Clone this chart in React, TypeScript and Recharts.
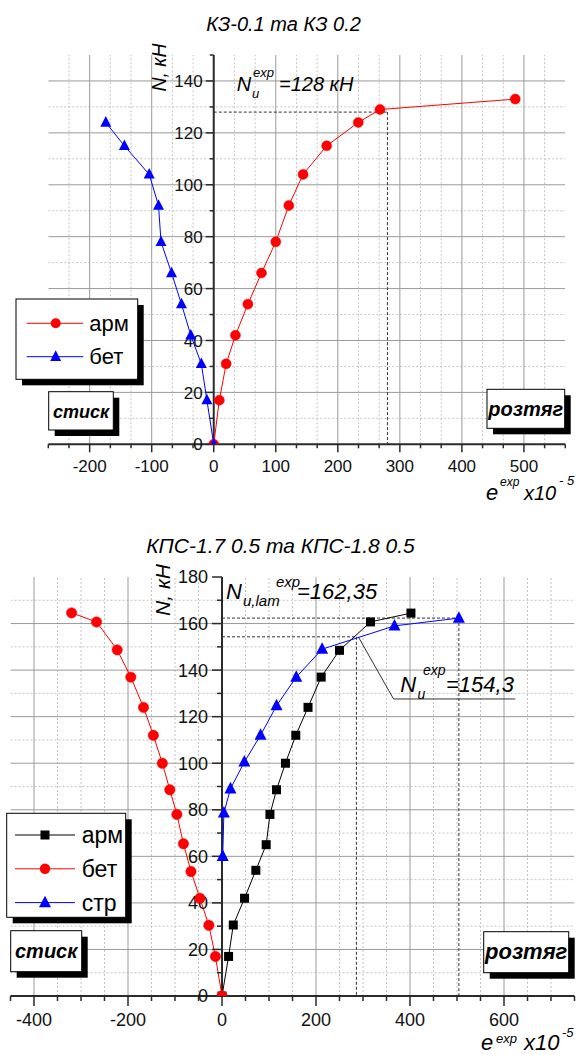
import React from 'react';
import { ComposedChart, Line, XAxis, YAxis, ReferenceLine, ReferenceDot } from 'recharts';

const FONT = '"Liberation Sans", Arial, sans-serif';
const AXIS = '#2a2a2a';
const GRID_MAJOR = '#9a9a9a';
const GRID_MINOR = '#c4c4c4';

// ---------- Chart 1: КЗ-0.1 та КЗ 0.2 ----------
const k1Title = 'КЗ-0.1 та КЗ 0.2';
const k1ArmLoad = [0, 17, 31, 42, 54, 66, 78, 92, 104, 115, 124, 129, 133];
const k1ArmStrain = [0, 9, 20, 35, 55, 77, 100, 121, 144, 182, 233, 268, 486];
const k1BetLoad = [0, 17, 31, 42, 54, 66, 78, 92, 104, 115, 124];
const k1BetStrain = [0, -11, -20, -37, -52, -68, -85, -89, -104, -144, -174];
const k1XDomain = [-266.67, 566.67];
const k1YDomain = [0, 150];
const k1XMajor = [-200, -100, 0, 100, 200, 300, 400, 500];
const k1XMinor = [-266.67, -233.33, -166.67, -133.33, -66.67, -33.33, 33.33, 66.67, 133.33, 166.67, 233.33, 266.67, 333.33, 366.67, 433.33, 466.67, 533.33, 566.67];
const k1YMajor = [0, 20, 40, 60, 80, 100, 120, 140];
const k1YMinor = [10, 30, 50, 70, 90, 110, 130, 150];
const k1NuLoad = 128;
const k1NuStrain = 280;

// ---------- Chart 2: КПС-1.7 0.5 та КПС-1.8 0.5 ----------
const k2Title = 'КПС-1.7 0.5 та КПС-1.8 0.5';
const k2ArmLoad = [0, 17, 30.5, 42, 54, 65, 78, 88.6, 100, 112, 124, 137, 148.5, 160.7, 164.5];
const k2ArmStrain = [0, 14, 24, 48, 72, 94, 102, 116, 135, 157, 183, 211, 250, 316, 402];
const k2BetLoad = [0, 17, 30.4, 42, 53.5, 65.4, 78, 88.6, 100, 112, 124, 137, 148.7, 160.7, 164.6];
const k2BetStrain = [0, -14, -28, -47, -66, -82, -96, -111, -127, -146, -167, -194, -223, -267, -320];
const k2StrLoad = [60, 78.6, 89, 100.5, 112, 124.7, 137, 149, 159, 162.35];
const k2StrStrain = [1.5, 4, 18, 47.5, 82, 116, 158, 213, 367, 504];
const k2XDomain = [-450, 750];
const k2YDomain = [0, 180];
const k2XMajor = [-400, -200, 0, 200, 400, 600];
const k2XMinor = [-450, -350, -300, -250, -150, -100, -50, 50, 100, 150, 250, 300, 350, 450, 500, 550, 650, 700, 750];
const k2YMajor = [0, 20, 40, 60, 80, 100, 120, 140, 160, 180];
const k2YMinor = [10, 30, 50, 70, 90, 110, 130, 150, 170];
const k2NuLamLoad = 162.35;
const k2NuLamStrain = 504;
const k2NuLoad = 154.3;
const k2NuStrain = 286;
const k2LeaderMid = { x: 365, y: 127.6 };
const k2LeaderEnd = 624;

const pts = (xs: number[], ys: number[]) => xs.map((x, i) => ({ x, y: ys[i] }));
const inside = (vals: number[], d: number[]) => vals.filter((v) => v !== 0 && v > d[0] + 1e-6 && v < d[1] - 1e-6);

const circleDot = (color: string, r: number) => (p: any) =>
  <circle key={`c${p.index}`} cx={p.cx} cy={p.cy} r={r} fill={color} stroke={color} strokeWidth={0.5} />;
const triDot = (color: string, s: number) => (p: any) => {
  const { cx, cy } = p;
  return <path key={`t${p.index}`} d={`M${cx},${cy - s * 0.58}L${cx + s / 2},${cy + s * 0.38}L${cx - s / 2},${cy + s * 0.38}Z`} fill={color} />;
};
const squareDot = (color: string, s: number) => (p: any) =>
  <rect key={`s${p.index}`} x={p.cx - s / 2} y={p.cy - s / 2} width={s} height={s} fill={color} />;

type AxisStyle = { major: number; minor: number; fontSize: number; labelDy: number; labelGap: number };

const near = (a: number[], v: number) => a.some((m) => Math.abs(m - v) < 1e-6);

const makeXTick = (majors: number[], st: AxisStyle) => (props: any) => {
  const { x, y, payload } = props;
  const v = payload.value;
  const isMajor = near(majors, v);
  return (
    <g>
      <line x1={x} x2={x} y1={y} y2={y + (isMajor ? st.major : st.minor)} stroke={AXIS} strokeWidth={1.5} />
      {isMajor && (
        <text x={x} y={y + st.labelDy} textAnchor="middle" fontSize={st.fontSize} fontFamily={FONT} fill="#111">{v}</text>
      )}
    </g>
  );
};

const yTickShape = (v: number, isMajor: boolean, st: AxisStyle) => (p: any) => (
  <g>
    <line x1={p.cx - (isMajor ? st.major : st.minor)} x2={p.cx} y1={p.cy} y2={p.cy} stroke={AXIS} strokeWidth={1.5} />
    {isMajor && (
      <text x={p.cx - st.labelGap} y={p.cy + st.fontSize * 0.36} textAnchor="end" fontSize={st.fontSize} fontFamily={FONT} fill="#111">{v}</text>
    )}
  </g>
);

const yTicks = (major: number[], minor: number[], st: AxisStyle) => [
  ...minor.map((v) => <ReferenceDot key={`ytm${v}`} x={0} y={v} r={1} shape={yTickShape(v, false, st)} />),
  ...major.map((v) => <ReferenceDot key={`yt${v}`} x={0} y={v} r={1} shape={yTickShape(v, true, st)} />),
];

// grid drawn as two-point lines through the chart scales
const gridLine = (key: string, data: any[], major: boolean) => (
  <Line key={key} data={data} dataKey="y" type="linear" stroke={major ? GRID_MAJOR : GRID_MINOR} strokeWidth={1}
    strokeDasharray={major ? undefined : '2 2'} dot={false} activeDot={false} legendType="none" isAnimationActive={false} />
);
const gridLines = (xMajor: number[], xMinor: number[], yMajor: number[], yMinor: number[], xd: number[], yd: number[]) => [
  ...inside(xMinor, xd).map((v) => gridLine(`gxm${v}`, [{ x: v, y: yd[0] }, { x: v, y: yd[1] }], false)),
  ...inside(yMinor, yd).map((v) => gridLine(`gym${v}`, [{ x: xd[0], y: v }, { x: xd[1], y: v }], false)),
  ...inside(xMajor, xd).map((v) => gridLine(`gx${v}`, [{ x: v, y: yd[0] }, { x: v, y: yd[1] }], true)),
  ...inside(yMajor, yd).map((v) => gridLine(`gy${v}`, [{ x: xd[0], y: v }, { x: xd[1], y: v }], true)),
];

const st1: AxisStyle = { major: 8, minor: 4, fontSize: 17, labelDy: 28, labelGap: 11 };
const st2: AxisStyle = { major: 10, minor: 5, fontSize: 18, labelDy: 30, labelGap: 14 };

const Box = ({ x, y, w, h, sh }: any) => (
  <g>
    <rect x={x + sh} y={y + sh} width={w} height={h} fill="#000" />
    <rect x={x} y={y} width={w} height={h} fill="#fff" stroke="#000" strokeWidth={1} />
  </g>
);

const LegendMarker = ({ kind, cx, cy, color, s }: any) => {
  if (kind === 'circle') return <circle cx={cx} cy={cy} r={s} fill={color} />;
  if (kind === 'square') return <rect x={cx - s / 2} y={cy - s / 2} width={s} height={s} fill={color} />;
  return <path d={`M${cx},${cy - s * 0.58}L${cx + s / 2},${cy + s * 0.38}L${cx - s / 2},${cy + s * 0.38}Z`} fill={color} />;
};

const k1Series = [
  { name: 'арм', color: '#ff0000', kind: 'circle', size: 5 },
  { name: 'бет', color: '#0000ff', kind: 'tri', size: 11 },
];
const k2Series = [
  { name: 'арм', color: '#000000', kind: 'square', size: 9 },
  { name: 'бет', color: '#ff0000', kind: 'circle', size: 5.2 },
  { name: 'стр', color: '#0000ff', kind: 'tri', size: 12 },
];

const Overlay = () => (
  <svg width={577} height={1055} style={{ position: 'absolute', left: 0, top: 0, pointerEvents: 'none' }} fontFamily={FONT}>
    {/* Chart 1 texts */}
    <text x={283.5} y={31} textAnchor="middle" fontSize={20} fontStyle="italic" fill="#000">{k1Title}</text>
    <text transform="translate(159,67.5) rotate(-90)" textAnchor="middle" dominantBaseline="central" fontSize={19.5} fontStyle="italic">N, кН</text>
    <text x={236.7} y={90.5} fontSize={20} fontStyle="italic">N</text>
    <text x={252} y={98} fontSize={13} fontStyle="italic">u</text>
    <text x={253} y={77} fontSize={13} fontStyle="italic">exp</text>
    <text x={279} y={90.5} fontSize={20} fontStyle="italic">=128 кН</text>
    <text x={486} y={499.5} fontSize={22} fontStyle="italic">e</text>
    <text x={500} y={486} fontSize={12} fontStyle="italic">exp</text>
    <text x={524} y={499.5} fontSize={20} fontStyle="italic">x10</text>
    <text x={559} y={484.5} fontSize={13} fontStyle="italic">- 5</text>

    {/* Chart 1 legend */}
    <Box x={16} y={299} w={121.7} h={80.3} sh={6} />
    {k1Series.map((s, i) => {
      const cy = 323.3 + i * 33.4;
      return (
        <g key={s.name}>
          <line x1={26.7} x2={83.3} y1={cy} y2={cy} stroke={s.color} strokeWidth={1} />
          <LegendMarker kind={s.kind} cx={55.7} cy={cy} color={s.color} s={s.size} />
          <text x={89.3} y={cy + 7.5} fontSize={22}>{s.name}</text>
        </g>
      );
    })}
    <Box x={48.7} y={391.7} w={64.6} h={38.3} sh={6} />
    <text x={81} y={417.5} textAnchor="middle" fontSize={18} fontStyle="italic" fontWeight="bold">стиск</text>
    <Box x={487} y={389.3} w={77.7} h={39} sh={6} />
    <text x={525.8} y={415.5} textAnchor="middle" fontSize={20} fontStyle="italic" fontWeight="bold">розтяг</text>

    {/* Chart 2 texts */}
    <text x={280.5} y={553} textAnchor="middle" fontSize={21} fontStyle="italic" fill="#000">{k2Title}</text>
    <text transform="translate(162,590) rotate(-90)" textAnchor="middle" dominantBaseline="central" fontSize={21} fontStyle="italic">N, кН</text>
    <text x={226} y={598.5} fontSize={22} fontStyle="italic">N</text>
    <text x={243} y={606} fontSize={15} fontStyle="italic">u,lam</text>
    <text x={276} y={587} fontSize={15} fontStyle="italic">exp</text>
    <text x={297} y={598.5} fontSize={22} fontStyle="italic">=162,35</text>
    <text x={400.3} y={691.7} fontSize={22} fontStyle="italic">N</text>
    <text x={417.5} y={699} fontSize={14} fontStyle="italic">u</text>
    <text x={423} y={675} fontSize={14} fontStyle="italic">exp</text>
    <text x={446} y={691.7} fontSize={22} fontStyle="italic">=154,3</text>
    <text x={481} y={1050} fontSize={22} fontStyle="italic">e</text>
    <text x={496} y={1042.5} fontSize={13} fontStyle="italic">exp</text>
    <text x={524} y={1050} fontSize={22} fontStyle="italic">x10</text>
    <text x={562} y={1037} fontSize={13} fontStyle="italic">-5</text>

    {/* Chart 2 legend */}
    <Box x={6.7} y={813.3} w={119} h={104} sh={6} />
    {k2Series.map((s, i) => {
      const cy = 835 + i * 33.8;
      return (
        <g key={s.name}>
          <line x1={15} x2={75} y1={cy} y2={cy} stroke={s.color} strokeWidth={1} />
          <LegendMarker kind={s.kind} cx={45} cy={cy} color={s.color} s={s.size} />
          <text x={81.7} y={cy + 8} fontSize={23}>{s.name}</text>
        </g>
      );
    })}
    <Box x={10.7} y={930.7} w={71} h={41} sh={6} />
    <text x={46.2} y={958} textAnchor="middle" fontSize={20} fontStyle="italic" fontWeight="bold">стиск</text>
    <Box x={483.7} y={931.7} w={85} h={41} sh={6} />
    <text x={526.2} y={959} textAnchor="middle" fontSize={22} fontStyle="italic" fontWeight="bold">розтяг</text>
  </svg>
);

export default function App() {
  const k1Ticks = [...k1XMajor, ...k1XMinor].sort((a, b) => a - b);
  const k2Ticks = [...k2XMajor, ...k2XMinor].sort((a, b) => a - b);
  return (
    <div style={{ position: 'absolute', left: 0, top: 0, width: 577, height: 1055, background: '#fff', fontFamily: FONT, overflow: 'hidden' }}>
      <div style={{ position: 'absolute', left: 0, top: 0 }}>
        <ComposedChart width={577} height={510} margin={{ top: 55, right: 11.7, left: 48.3, bottom: 35.7 }}>
          <XAxis type="number" dataKey="x" domain={k1XDomain} allowDataOverflow ticks={k1Ticks} interval={0}
            tickSize={0} tickMargin={0} tickLine={false} height={30}
            axisLine={{ stroke: AXIS, strokeWidth: 2 }} tick={makeXTick(k1XMajor, st1)} />
          <YAxis type="number" dataKey="y" domain={k1YDomain} allowDataOverflow hide />
          {gridLines(k1XMajor, k1XMinor, k1YMajor, k1YMinor, k1XDomain, k1YDomain)}
          <ReferenceLine segment={[{ x: 0, y: k1NuLoad }, { x: k1NuStrain, y: k1NuLoad }]} stroke="#333" strokeDasharray="3 2" strokeWidth={1} />
          <ReferenceLine segment={[{ x: k1NuStrain, y: k1NuLoad }, { x: k1NuStrain, y: 0 }]} stroke="#333" strokeDasharray="3 2" strokeWidth={1} />
          <ReferenceLine segment={[{ x: 0, y: k1YDomain[0] }, { x: 0, y: k1YDomain[1] }]} stroke={AXIS} strokeWidth={2} />
          {yTicks(k1YMajor, k1YMinor, st1)}
          <Line data={pts(k1ArmStrain, k1ArmLoad)} dataKey="y" name="арм" type="linear" stroke="#ff0000" strokeWidth={1}
            dot={circleDot('#ff0000', 5)} activeDot={false} isAnimationActive={false} />
          <Line data={pts(k1BetStrain, k1BetLoad)} dataKey="y" name="бет" type="linear" stroke="#0000ff" strokeWidth={1}
            dot={triDot('#0000ff', 11)} activeDot={false} isAnimationActive={false} />
        </ComposedChart>
      </div>
      <div style={{ position: 'absolute', left: 0, top: 520 }}>
        <ComposedChart width={577} height={535} margin={{ top: 57, right: 2.5, left: 10.5, bottom: 29 }}>
          <XAxis type="number" dataKey="x" domain={k2XDomain} allowDataOverflow ticks={k2Ticks} interval={0}
            tickSize={0} tickMargin={0} tickLine={false} height={30}
            axisLine={{ stroke: AXIS, strokeWidth: 2 }} tick={makeXTick(k2XMajor, st2)} />
          <YAxis type="number" dataKey="y" domain={k2YDomain} allowDataOverflow hide />
          {gridLines(k2XMajor, k2XMinor, k2YMajor, k2YMinor, k2XDomain, k2YDomain)}
          <ReferenceLine segment={[{ x: 0, y: k2NuLamLoad }, { x: k2NuLamStrain, y: k2NuLamLoad }]} stroke="#333" strokeDasharray="3 2" strokeWidth={1} />
          <ReferenceLine segment={[{ x: k2NuLamStrain, y: k2NuLamLoad }, { x: k2NuLamStrain, y: 0 }]} stroke="#333" strokeDasharray="3 2" strokeWidth={1} />
          <ReferenceLine segment={[{ x: 0, y: k2NuLoad }, { x: k2NuStrain, y: k2NuLoad }]} stroke="#333" strokeDasharray="3 2" strokeWidth={1} />
          <ReferenceLine segment={[{ x: k2NuStrain, y: k2NuLoad }, { x: k2NuStrain, y: 0 }]} stroke="#333" strokeDasharray="3 2" strokeWidth={1} />
          <ReferenceLine segment={[{ x: k2NuStrain + 4, y: k2NuLoad }, k2LeaderMid]} stroke="#333" strokeWidth={1} />
          <ReferenceLine segment={[k2LeaderMid, { x: k2LeaderEnd, y: k2LeaderMid.y }]} stroke="#333" strokeWidth={1} />
          <ReferenceLine segment={[{ x: 0, y: k2YDomain[0] }, { x: 0, y: k2YDomain[1] }]} stroke={AXIS} strokeWidth={2} />
          {yTicks(k2YMajor, k2YMinor, st2)}
          <Line data={pts(k2ArmStrain, k2ArmLoad)} dataKey="y" name="арм" type="linear" stroke="#000000" strokeWidth={1}
            dot={squareDot('#000000', 9)} activeDot={false} isAnimationActive={false} />
          <Line data={pts(k2BetStrain, k2BetLoad)} dataKey="y" name="бет" type="linear" stroke="#ff0000" strokeWidth={1}
            dot={circleDot('#ff0000', 5.2)} activeDot={false} isAnimationActive={false} />
          <Line data={pts(k2StrStrain, k2StrLoad)} dataKey="y" name="стр" type="linear" stroke="#0000ff" strokeWidth={1}
            dot={triDot('#0000ff', 12)} activeDot={false} isAnimationActive={false} />
        </ComposedChart>
      </div>
      <Overlay />
    </div>
  );
}
